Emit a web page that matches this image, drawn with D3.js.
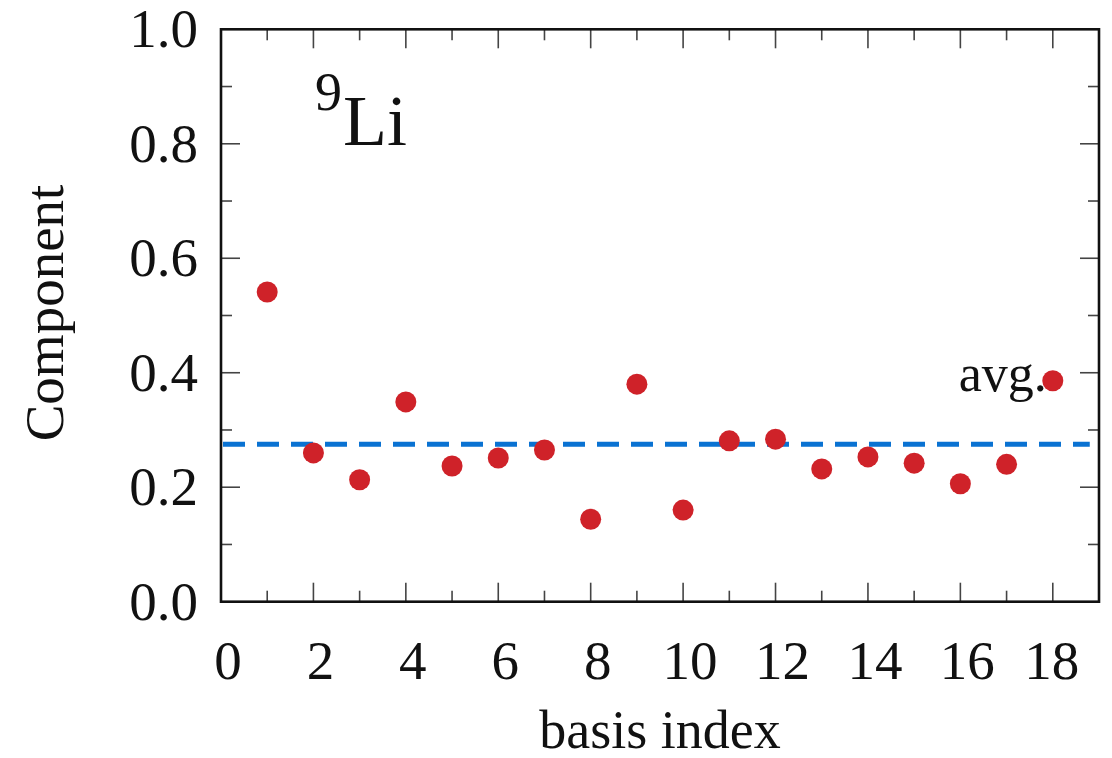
<!DOCTYPE html>
<html><head><meta charset="utf-8">
<script src="https://cdn.jsdelivr.net/npm/d3@7"></script>
<style>body{margin:0;background:#fff}svg{display:block}</style>
</head><body>
<script>
const basisIndex = [1,2,3,4,5,6,7,8,9,10,11,12,13,14,15,16,17,18];
const componentValues = [0.541,0.260,0.213,0.349,0.237,0.251,0.265,0.144,0.380,0.160,0.281,0.284,0.232,0.253,0.242,0.206,0.240,0.386];
const avgValue = 0.275;
const xTickValues = [0,2,4,6,8,10,12,14,16,18];
const yTickValues = [0.0,0.2,0.4,0.6,0.8,1.0];
const nucleusMass = "9", nucleusSymbol = "Li";

const W=1112,H=758;
const m={left:221,right:1099,top:29.3,bottom:601.7};
const svg=d3.select("body").append("svg").attr("width",W).attr("height",H);
const font="'Liberation Serif','Times New Roman',serif";
const x=d3.scaleLinear().domain([0,19]).range([m.left,m.right]);
const y=d3.scaleLinear().domain([0,1]).range([m.bottom,m.top]);

const tickCol="#444";
const xMinor=d3.range(1,19,2), yMinor=[0.1,0.3,0.5,0.7,0.9];
const g=svg.append("g");
function xt(vals,len){
  vals.forEach(v=>{
    g.append("line").attr("x1",x(v)).attr("x2",x(v)).attr("y1",m.bottom).attr("y2",m.bottom-len).attr("stroke",tickCol).attr("stroke-width",1.6);
    g.append("line").attr("x1",x(v)).attr("x2",x(v)).attr("y1",m.top).attr("y2",m.top+len).attr("stroke",tickCol).attr("stroke-width",1.6);
  });
}
function yt(vals,len){
  vals.forEach(v=>{
    g.append("line").attr("y1",y(v)).attr("y2",y(v)).attr("x1",m.left).attr("x2",m.left+len).attr("stroke",tickCol).attr("stroke-width",1.6);
    g.append("line").attr("y1",y(v)).attr("y2",y(v)).attr("x1",m.right).attr("x2",m.right-len).attr("stroke",tickCol).attr("stroke-width",1.6);
  });
}
xt(xTickValues.filter(v=>v>0),19); xt(xMinor,11);
yt(yTickValues.filter(v=>v>0&&v<1),19); yt(yMinor,11);

svg.append("rect").attr("x",m.left).attr("y",m.top).attr("width",m.right-m.left).attr("height",m.bottom-m.top)
  .attr("fill","none").attr("stroke","#111").attr("stroke-width",2.6);

svg.append("g").selectAll("text").data(xTickValues).join("text")
  .attr("x",(d,i)=>x(d)+(i===xTickValues.length-1?-1:7)).attr("y",679)
  .attr("text-anchor","middle").attr("font-family",font).attr("font-size",55).attr("fill","#111")
  .text(d=>d);
svg.append("g").selectAll("text").data(yTickValues).join("text")
  .attr("x",198).attr("y",d=>y(d)+18)
  .attr("text-anchor","end").attr("font-family",font).attr("font-size",55).attr("fill","#111")
  .text(d=>d.toFixed(1));

svg.append("text").attr("x",660).attr("y",748).attr("text-anchor","middle")
  .attr("font-family",font).attr("font-size",54).attr("fill","#111").text("basis index");
svg.append("text").attr("transform","translate(63,313) rotate(-90)").attr("text-anchor","middle")
  .attr("font-family",font).attr("font-size",55).attr("fill","#111").text("Component");

svg.append("line").attr("x1",m.left+2).attr("x2",x(18.8)).attr("y1",y(avgValue)).attr("y2",y(avgValue))
  .attr("stroke","#0a72d2").attr("stroke-width",5).attr("stroke-dasharray","22,12");

svg.append("g").selectAll("circle").data(basisIndex).join("circle")
  .attr("cx",d=>x(d)).attr("cy",(d,i)=>y(componentValues[i])).attr("r",10.5).attr("fill","#cf2229");

svg.append("text").attr("x",x(18)-6).attr("y",y(componentValues[17])+10).attr("text-anchor","end")
  .attr("font-family",font).attr("font-size",52).attr("fill","#111").text("avg.");

const lab=svg.append("text").attr("font-family",font).attr("fill","#111");
lab.append("tspan").attr("x",315).attr("y",110).attr("font-size",54).text(nucleusMass);
lab.append("tspan").attr("x",343).attr("y",145).attr("font-size",72).text(nucleusSymbol);
</script>
</body></html>
